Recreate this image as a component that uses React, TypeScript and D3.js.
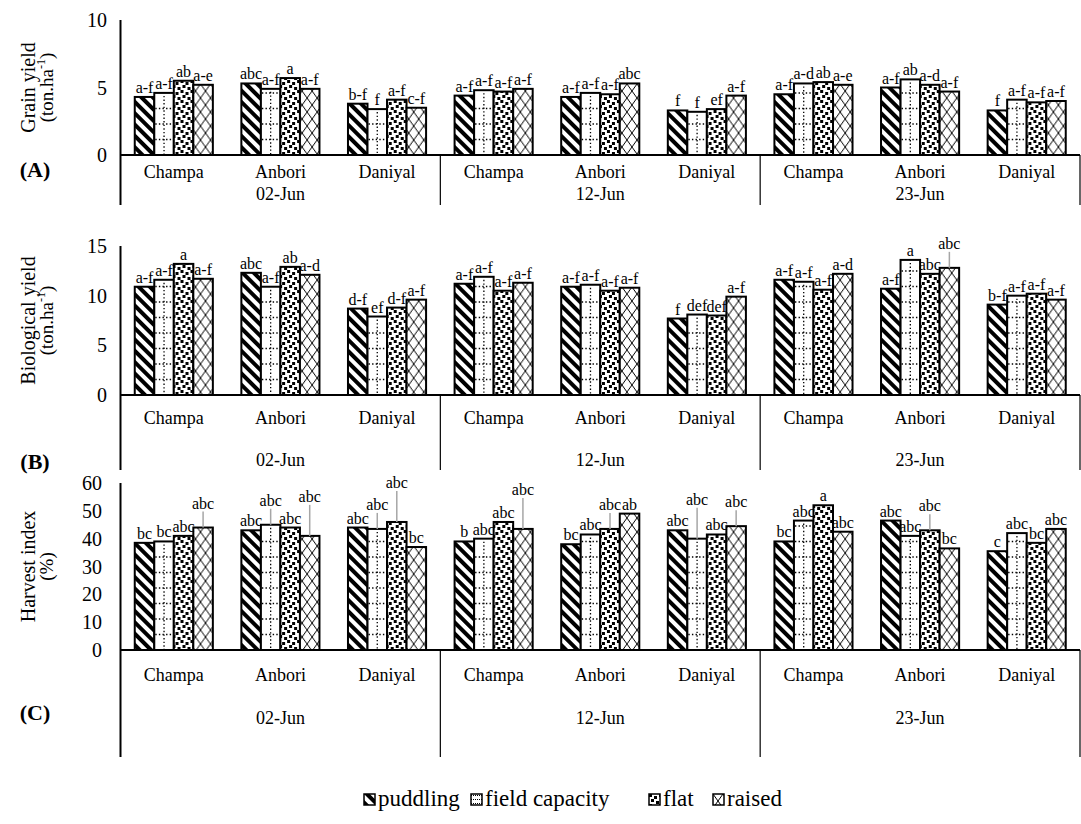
import React from "react";
import * as d3 from "d3";

const dates = ["02-Jun", "12-Jun", "23-Jun"];
const cultivars = ["Champa", "Anbori", "Daniyal"];
const treatments = ["puddling", "field capacity", "flat", "raised"];

// rows: 02-Jun Champa, Anbori, Daniyal, 12-Jun ..., 23-Jun ...
const grainYield = [
  [4.3, 4.6, 5.5, 5.2],
  [5.3, 4.9, 5.7, 4.9],
  [3.8, 3.4, 4.1, 3.5],
  [4.4, 4.8, 4.7, 4.9],
  [4.3, 4.6, 4.5, 5.3],
  [3.3, 3.2, 3.4, 4.4],
  [4.5, 5.3, 5.4, 5.2],
  [5.0, 5.6, 5.2, 4.7],
  [3.3, 4.1, 3.9, 4.0],
];
const grainLetters = [
  ["a-f", "a-f", "ab", "a-e"],
  ["abc", "a-f", "a", "a-f"],
  ["b-f", "f", "a-f", "c-f"],
  ["a-f", "a-f", "a-f", "a-f"],
  ["a-f", "a-f", "a-f", "abc"],
  ["f", "f", "ef", "a-f"],
  ["a-f", "a-d", "ab", "a-e"],
  ["a-f", "ab", "a-d", "a-f"],
  ["f", "a-f", "a-f", "a-f"],
];
const bioYield = [
  [10.9, 11.6, 13.2, 11.7],
  [12.3, 10.9, 12.9, 12.1],
  [8.7, 7.9, 8.8, 9.6],
  [11.2, 11.9, 10.5, 11.3],
  [10.9, 11.1, 10.5, 10.8],
  [7.7, 8.1, 8.0, 9.9],
  [11.6, 11.4, 10.6, 12.2],
  [10.7, 13.6, 12.2, 12.8],
  [9.1, 10.0, 10.2, 9.6],
];
const bioLetters = [
  ["a-f", "a-f", "a", "a-f"],
  ["abc", "a-f", "ab", "a-d"],
  ["d-f", "ef", "d-f", "a-f"],
  ["a-f", "a-f", "a-f", "a-f"],
  ["a-f", "a-f", "a-f", "a-f"],
  ["f", "def", "def", "a-f"],
  ["a-f", "a-f", "a-f", "a-d"],
  ["a-f", "a", "abc", "abc"],
  ["b-f", "a-f", "a-f", "a-f"],
];
const harvestIndex = [
  [38.5, 39, 41, 44],
  [43, 45, 44, 41],
  [44, 43.5, 46, 37],
  [39, 40, 46, 43.5],
  [38, 41.5, 43.5, 49],
  [43, 40, 41.5, 44.5],
  [39, 46.5, 52, 42.5],
  [46.5, 41, 43, 36.5],
  [35.5, 42, 38.5, 43.5],
];
const hiLetters = [
  ["bc", "bc", "abc", "abc"],
  ["abc", "abc", "abc", "abc"],
  ["abc", "abc", "abc", "bc"],
  ["b", "abc", "abc", "abc"],
  ["bc", "abc", "abc", "ab"],
  ["abc", "abc", "abc", "abc"],
  ["bc", "abc", "a", "abc"],
  ["abc", "abc", "abc", "bc"],
  ["c", "abc", "bc", "abc"],
];
const grainTicks = [0, 5, 10];
const bioTicks = [0, 5, 10, 15];
const hiTicks = [0, 10, 20, 30, 40, 50, 60];

const FONT = "'Liberation Serif', 'Times New Roman', serif";
const X0 = 120.5;
const X1 = 1080;
const LABEL_FS = 16;

const catKeys = dates.flatMap((d) => cultivars.map((c) => `${d}|${c}`));

const fills = ["url(#pPud)", "#fff", "url(#pFlat)", "url(#pRaised)"];

// approximate Times advance widths (em) for label letters
const charW: Record<string, number> = { a: 0.444, b: 0.5, c: 0.444, d: 0.5, e: 0.444, f: 0.333, "-": 0.333 };
const textWidth = (s: string, fs: number) =>
  s.split("").reduce((acc, ch) => acc + (charW[ch] ?? 0.5), 0) * fs;

type Cfg = {
  values: number[][];
  letters: string[][];
  ticks: number[];
  max: number;
  top: number;
  zero: number;
  catY: number;
  groupY: number;
  lineBottom: number;
  tickX: number;
  title1: string;
  title2: string;
  sup: boolean;
  tag: string;
  tagY: number;
};

function placeLabels(
  items: { cx: number; top: number; text: string }[]
): { x: number; y: number; base: number }[] {
  const placed: { x0: number; x1: number; y: number }[] = [];
  return items.map((it) => {
    const w = textWidth(it.text, LABEL_FS);
    const x0 = it.cx - w / 2;
    const x1 = it.cx + w / 2;
    const base = it.top - 4;
    let y = base;
    for (let k = 0; k < 4; k++) {
      const cand = base - k * 15;
      const clash = placed.some(
        (p) => x0 < p.x1 - 1 && x1 > p.x0 + 1 && Math.abs(p.y - cand) < 13
      );
      y = cand;
      if (!clash) break;
    }
    placed.push({ x0, x1, y });
    return { x: it.cx, y, base };
  });
}

function Panel({ cfg }: { cfg: Cfg }) {
  const y = d3.scaleLinear().domain([0, cfg.max]).range([cfg.zero, cfg.top]);
  const x0 = d3.scaleBand().domain(catKeys).range([X0, X1]).paddingInner(0).paddingOuter(0);
  const x1 = d3
    .scaleBand()
    .domain(treatments)
    .range([0, x0.bandwidth()])
    .paddingInner(0)
    .paddingOuter(0.73);
  const bw = x1.bandwidth();
  const midY = (cfg.top + cfg.zero) / 2;
  return (
    <g>
      {/* y title */}
      <g transform={`translate(29,${midY}) rotate(-90)`}>
        <text textAnchor="middle" fontSize={20} dy={6}>{cfg.title1}</text>
      </g>
      <g transform={`translate(47,${midY}) rotate(-90)`}>
        <text textAnchor="middle" fontSize={19} dy={6}>
          {cfg.sup ? (
            <>
              (ton.ha<tspan fontSize={12} dy={-8}>-1</tspan>
              <tspan dy={8}>)</tspan>
            </>
          ) : (
            cfg.title2
          )}
        </text>
      </g>
      {/* ticks */}
      {cfg.ticks.map((t) => (
        <text key={t} x={cfg.tickX} y={y(t)} dy={7} textAnchor="end" fontSize={20}>
          {t}
        </text>
      ))}
      {/* bars */}
      {catKeys.map((k, ci) => {
        const labels = placeLabels(
          treatments.map((t, ti) => ({
            cx: (x1(t) as number) + bw / 2,
            top: y(cfg.values[ci][ti]),
            text: cfg.letters[ci][ti],
          }))
        );
        return (
          <g key={k} transform={`translate(${x0(k)},0)`}>
            {treatments.map((t, ti) => {
              const v = cfg.values[ci][ti];
              const bx = x1(t) as number;
              const by = y(v);
              const h = cfg.zero - by;
              const dots: React.ReactNode[] = [];
              if (ti === 1) {
                dots.push(
                  <line key="v" x1={bx + bw / 2} x2={bx + bw / 2} y1={by + 3} y2={cfg.zero}
                    stroke="#000" strokeWidth={1.3} strokeDasharray="1.4 2.2" />
                );
                for (let yy = cfg.zero - 15.5; yy > by + 3; yy -= 15.5) {
                  dots.push(
                    <line key={yy} x1={bx + 1} x2={bx + bw - 1} y1={yy} y2={yy}
                      stroke="#000" strokeWidth={1.3} strokeDasharray="1.4 2.2" />
                  );
                }
              }
              return (
                <g key={t}>
                  <rect x={bx} y={by} width={bw} height={h} fill={fills[ti]} />
                  {dots}
                  <rect x={bx} y={by} width={bw} height={h} fill="none" stroke="#000" strokeWidth={2} />
                </g>
              );
            })}
            {labels.map((l, ti) => (
              <g key={ti}>
                {l.base - l.y > 10 && (
                  <line x1={l.x} x2={l.x} y1={l.y + 3} y2={l.base + 4} stroke="#a6a6a6" strokeWidth={1.5} />
                )}
                <text x={l.x} y={l.y} textAnchor="middle" fontSize={LABEL_FS}>
                  {cfg.letters[ci][ti]}
                </text>
              </g>
            ))}
            <text x={x0.bandwidth() / 2} y={cfg.catY} dy={6} textAnchor="middle" fontSize={18}>
              {k.split("|")[1]}
            </text>
          </g>
        );
      })}
      {/* axes */}
      <line x1={X0} x2={X0} y1={cfg.top} y2={cfg.lineBottom} stroke="#000" strokeWidth={2} />
      <line x1={X0} x2={X1} y1={cfg.zero} y2={cfg.zero} stroke="#000" strokeWidth={2} />
      {dates.map((d, di) => {
        const gx0 = x0(`${d}|${cultivars[0]}`) as number;
        const gx1 = (x0(`${d}|${cultivars[2]}`) as number) + x0.bandwidth();
        return (
          <g key={d}>
            {di > 0 && (
              <line x1={gx0} x2={gx0} y1={cfg.zero} y2={cfg.lineBottom} stroke="#000" strokeWidth={1.2} />
            )}
            {di === dates.length - 1 && (
              <line x1={gx1} x2={gx1} y1={cfg.zero} y2={cfg.lineBottom} stroke="#000" strokeWidth={1.2} />
            )}
            <text x={(gx0 + gx1) / 2} y={cfg.groupY} dy={6} textAnchor="middle" fontSize={18}>
              {d}
            </text>
          </g>
        );
      })}
      <text x={35} y={cfg.tagY} dy={7} textAnchor="middle" fontSize={22} fontWeight="bold">
        {cfg.tag}
      </text>
    </g>
  );
}

const panels: Cfg[] = [
  {
    values: grainYield, letters: grainLetters, ticks: grainTicks, max: 10,
    top: 20, zero: 155, catY: 172, groupY: 194, lineBottom: 205, tickX: 107,
    title1: "Grain yield", title2: "", sup: true, tag: "(A)", tagY: 170,
  },
  {
    values: bioYield, letters: bioLetters, ticks: bioTicks, max: 15,
    top: 246, zero: 395, catY: 418, groupY: 460, lineBottom: 470, tickX: 107,
    title1: "Biological yield", title2: "", sup: true, tag: "(B)", tagY: 462,
  },
  {
    values: harvestIndex, letters: hiLetters, ticks: hiTicks, max: 60,
    top: 483, zero: 650, catY: 675, groupY: 718, lineBottom: 757, tickX: 102,
    title1: "Harvest index", title2: "(%)", sup: false, tag: "(C)", tagY: 713,
  },
];

const legendX = [364, 471, 649, 713];

export default function App() {
  return (
    <svg
      width={1081}
      height={824}
      style={{ position: "absolute", left: 0, top: 0, background: "#fff" }}
      fontFamily={FONT}
    >
      <defs>
        <pattern id="pPud" width={8} height={8} patternUnits="userSpaceOnUse" patternTransform="rotate(-45)">
          <rect width={8} height={8} fill="#fff" />
          <rect width={4} height={8} fill="#000" />
        </pattern>
        <pattern id="pFlat" width={10} height={10} patternUnits="userSpaceOnUse">
          <rect width={10} height={10} fill="#fff" />
          <rect x={0} y={0} width={3} height={3} fill="#000" />
          <rect x={5} y={2} width={3} height={3} fill="#000" />
          <rect x={2} y={5} width={3} height={3} fill="#000" />
          <rect x={7} y={7} width={3} height={3} fill="#000" />
        </pattern>
        <pattern id="pRaised" width={10} height={14} patternUnits="userSpaceOnUse">
          <rect width={10} height={14} fill="#fff" />
          <path d="M0,0 L10,14 M10,0 L0,14" stroke="#000" strokeWidth={1} />
        </pattern>
        <pattern id="pFc" width={4} height={4} patternUnits="userSpaceOnUse">
          <rect width={4} height={4} fill="#fff" />
          <rect x={0} y={1} width={1} height={1} fill="#000" />
          <rect x={2} y={1} width={1} height={1} fill="#000" />
        </pattern>
      </defs>
      {panels.map((p) => (
        <Panel key={p.tag} cfg={p} />
      ))}
      {treatments.map((t, i) => (
        <g key={t} transform={`translate(${legendX[i]},${794})`}>
          <rect width={11} height={11} fill={i === 1 ? "url(#pFc)" : fills[i]} stroke="#000" strokeWidth={1.5} />
          <text x={14} y={12} fontSize={23}>{t}</text>
        </g>
      ))}
    </svg>
  );
}
